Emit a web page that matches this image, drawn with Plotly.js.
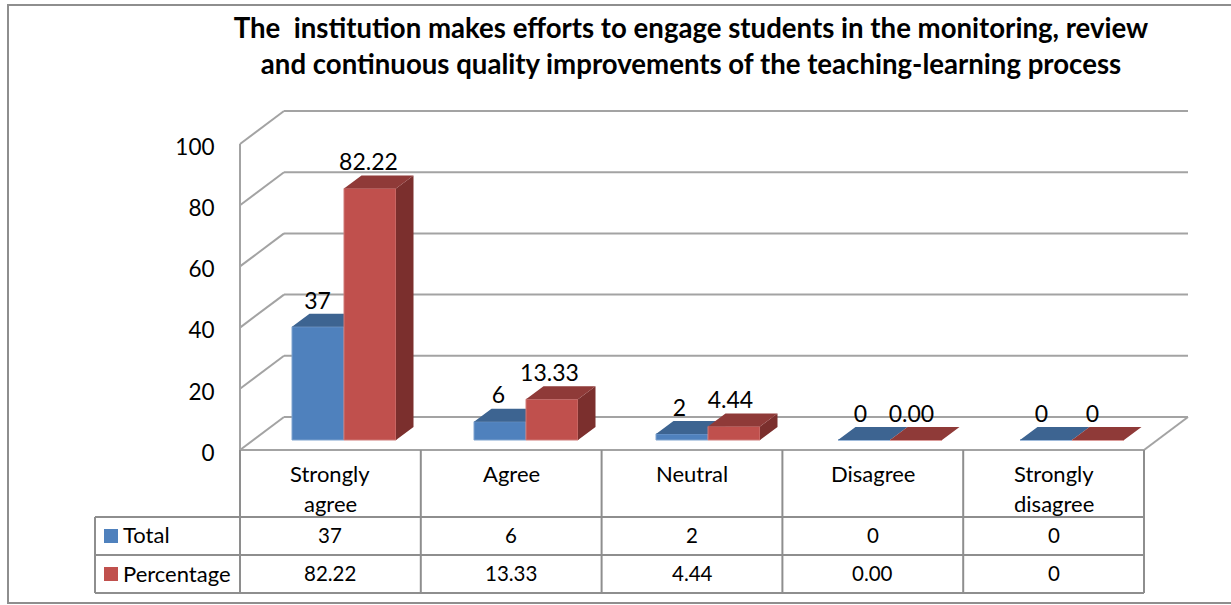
<!DOCTYPE html>
<html>
<head>
<meta charset="utf-8">
<script src="https://cdn.plot.ly/plotly-3.0.1.min.js"></script>
<style>html,body{margin:0;padding:0;background:#fff}#chart{width:1231px;height:605px}</style>
</head>
<body>
<div id="chart"></div>
<script>
const categories = ["Strongly<br>agree", "Agree", "Neutral", "Disagree", "Strongly<br>disagree"];
const totalValues = [37, 6, 2, 0, 0];
const percentValues = [82.22, 13.33, 4.44, 0, 0];
const totalLabels = ["37", "6", "2", "0", "0"];
const percentLabels = ["82.22", "13.33", "4.44", "0.00", "0"];
const yTicks = [0, 20, 40, 60, 80, 100];
const titleText = "The  institution makes efforts to engage students in the monitoring, review<br>and continuous quality improvements of the teaching-learning process";

const FONT = "Lato, Carlito, sans-serif";
const GRID = "#a3a3a3", EDGE = "#8e8e8e";
// scale of the data plane
const pxPerCat = 180.8, pxPerVal = 3.06, x0px = 240, y0px = 450;
const L = 230, R = 1200, T = 105, B = 460;
const X = p => (p - x0px) / pxPerCat;
const Y = p => (y0px - p) / pxPerVal;
const xRange = [X(L), X(R)], yRange = [Y(B), Y(T)];
const wallDx = 44 / pxPerCat, wallDy = 33 / pxPerVal;
const barW = 52 / pxPerCat, barDx = 17.5 / pxPerCat, barDy = 13 / pxPerVal;
const barBase = 10 / pxPerVal;
const labelLift = 24 / pxPerVal;
const tickNudge = 3 / pxPerVal;
const centers = categories.map((_, i) => (104 + 182 * i) / pxPerCat);
const labelCenters = categories.map((_, i) => (103 + 181 * i) / pxPerCat);
const labelGap = 25.5 / pxPerCat;

function faces(values, offset) {
  const topX = [], topY = [], sideX = [], sideY = [];
  values.forEach((v, i) => {
    const l = centers[i] + offset, r = l + barW, b = barBase, t = barBase + v;
    topX.push(l, r, r + barDx, l + barDx, l, null);
    topY.push(t, t, t + barDy, t + barDy, t, null);
    if (v > 0) {
      sideX.push(r, r + barDx, r + barDx, r, r, null);
      sideY.push(b, b + barDy, t + barDy, t, b, null);
    }
  });
  return { topX, topY, sideX, sideY };
}
function poly(x, y, color, xa, ya) {
  return { type: "scatter", mode: "lines", x, y, xaxis: xa, yaxis: ya, fill: "toself",
    fillcolor: color, line: { width: 0, color }, hoverinfo: "skip", showlegend: false };
}
function bar(name, values, offset, color, edge, xa, ya) {
  return { type: "bar", name, x: centers, y: values, base: barBase, width: barW, offset,
    xaxis: xa, yaxis: ya, marker: { color, line: { color: edge, width: 1 } }, cliponaxis: false,
    showlegend: false, hoverinfo: "name+y" };
}
function labels(values, text, offset, xa, ya) {
  return { type: "scatter", mode: "text", x: labelCenters.map(c => c + offset),
    y: values.map(v => v + barBase + labelLift), text, textposition: "middle center",
    textfont: { family: FONT, size: 23, color: "#000" }, xaxis: xa, yaxis: ya,
    cliponaxis: false, hoverinfo: "skip", showlegend: false };
}
const fT = faces(totalValues, -barW), fP = faces(percentValues, 0);
const traces = [
  bar("Total", totalValues, -barW, "#4f81bd", "#7ea3cf", "x", "y"),
  poly(fT.sideX, fT.sideY, "#2f4f76", "x", "y"),
  poly(fT.topX, fT.topY, "#3d6491", "x", "y"),
  bar("Percentage", percentValues, 0, "#c0504d", "#d07a78", "x2", "y2"),
  poly(fP.sideX, fP.sideY, "#7b2f2d", "x2", "y2"),
  poly(fP.topX, fP.topY, "#8f3a38", "x2", "y2"),
  labels(totalValues, totalLabels, -labelGap, "x2", "y2"),
  labels(percentValues, percentLabels, labelGap, "x2", "y2")
];

const shapes = [];
const seg = (x0, y0, x1, y1, color) => shapes.push({ type: "line", xref: "x", yref: "y", layer: "below",
  x0, y0, x1, y1, line: { color: color || GRID, width: 2 } });
const n = categories.length;
yTicks.forEach(v => {
  seg(0, v, wallDx, v + wallDy);
  seg(wallDx, v + wallDy, n + wallDx, v + wallDy);
});
seg(0, 0, 0, 100);
seg(0, 0, n, 0);
seg(n, 0, n + wallDx, wallDy);

// table drawn in page pixels on the paper reference
const plotW = R - L, plotH = B - T;
const PX = p => (p - L) / plotW, PY = p => (B - p) / plotH;
const pxLine = (x0, y0, x1, y1, color) => shapes.push({ type: "line", xref: "paper", yref: "paper",
  x0: PX(x0), y0: PY(y0), x1: PX(x1), y1: PY(y1), line: { color: color || EDGE, width: 2 } });
const colEdges = categories.map((_, i) => x0px + i * pxPerCat).concat([x0px + n * pxPerCat]);
colEdges.forEach(c => pxLine(c, 450, c, 593));
pxLine(95, 517, 95, 593);
[517, 555, 593].forEach(r => pxLine(95, r, x0px + n * pxPerCat, r));
// outer chart frame
shapes.push({ type: "rect", xref: "paper", yref: "paper", x0: PX(8), x1: PX(1240), y0: PY(603), y1: PY(5),
  line: { color: "#8e8e8e", width: 2 } });
// legend keys
[[529, "#4f81bd"], [567, "#c0504d"]].forEach(([py, color]) => shapes.push({ type: "rect", xref: "paper", yref: "paper",
  x0: PX(104), x1: PX(118), y0: PY(py + 14), y1: PY(py), fillcolor: color, line: { width: 0 } }));

const wordFont = { family: FONT, size: 22, color: "#000" };
const numFont = { family: FONT, size: 20.5, color: "#000" };
const annotations = [];
const cell = (x, xref, py, text, font, xanchor) => annotations.push({ x, xref, y: PY(py), yref: "paper", text,
  showarrow: false, xanchor: xanchor || "center", yanchor: "middle", font, borderpad: 0 });
categories.forEach((c, i) => {
  c.split("<br>").forEach((line, k) => cell(i + 0.5, "x", 473 + 30 * k, line, wordFont));
  cell(i + 0.5, "x", 535, totalLabels[i], numFont);
  cell(i + 0.5, "x", 573, percentLabels[i], numFont);
});
cell(PX(122), "paper", 534, "Total", wordFont, "left");
cell(PX(122), "paper", 573, "Percentage", wordFont, "left");

const hiddenAxis = r => ({ range: r, visible: false, fixedrange: true });
Plotly.newPlot("chart", traces, {
  width: 1231, height: 605,
  margin: { l: L, r: 1231 - R, t: T, b: 605 - B, pad: 0 },
  paper_bgcolor: "#fff", plot_bgcolor: "rgba(0,0,0,0)",
  showlegend: false,
  barmode: "overlay",
  font: { family: FONT, color: "#000" },
  title: { text: titleText, x: 691 / 1231, xanchor: "center", y: 1 - 38 / 605, yanchor: "middle",
    font: { family: FONT, size: 27.6, weight: 700, color: "#000" } },
  xaxis: { range: xRange, visible: false, fixedrange: true },
  yaxis: { range: yRange, tickmode: "array", tickvals: yTicks.map(v => v - tickNudge), ticktext: yTicks.map(String),
    showgrid: false, zeroline: false, showline: false, ticks: "outside", ticklen: 10,
    tickcolor: "rgba(0,0,0,0)", tickfont: { family: FONT, size: 22.5, color: "#000" }, fixedrange: true },
  xaxis2: Object.assign(hiddenAxis(xRange), { overlaying: "x" }),
  yaxis2: Object.assign(hiddenAxis(yRange), { overlaying: "y" }),
  shapes, annotations
}, { displayModeBar: false, staticPlot: true });
</script>
</body>
</html>
